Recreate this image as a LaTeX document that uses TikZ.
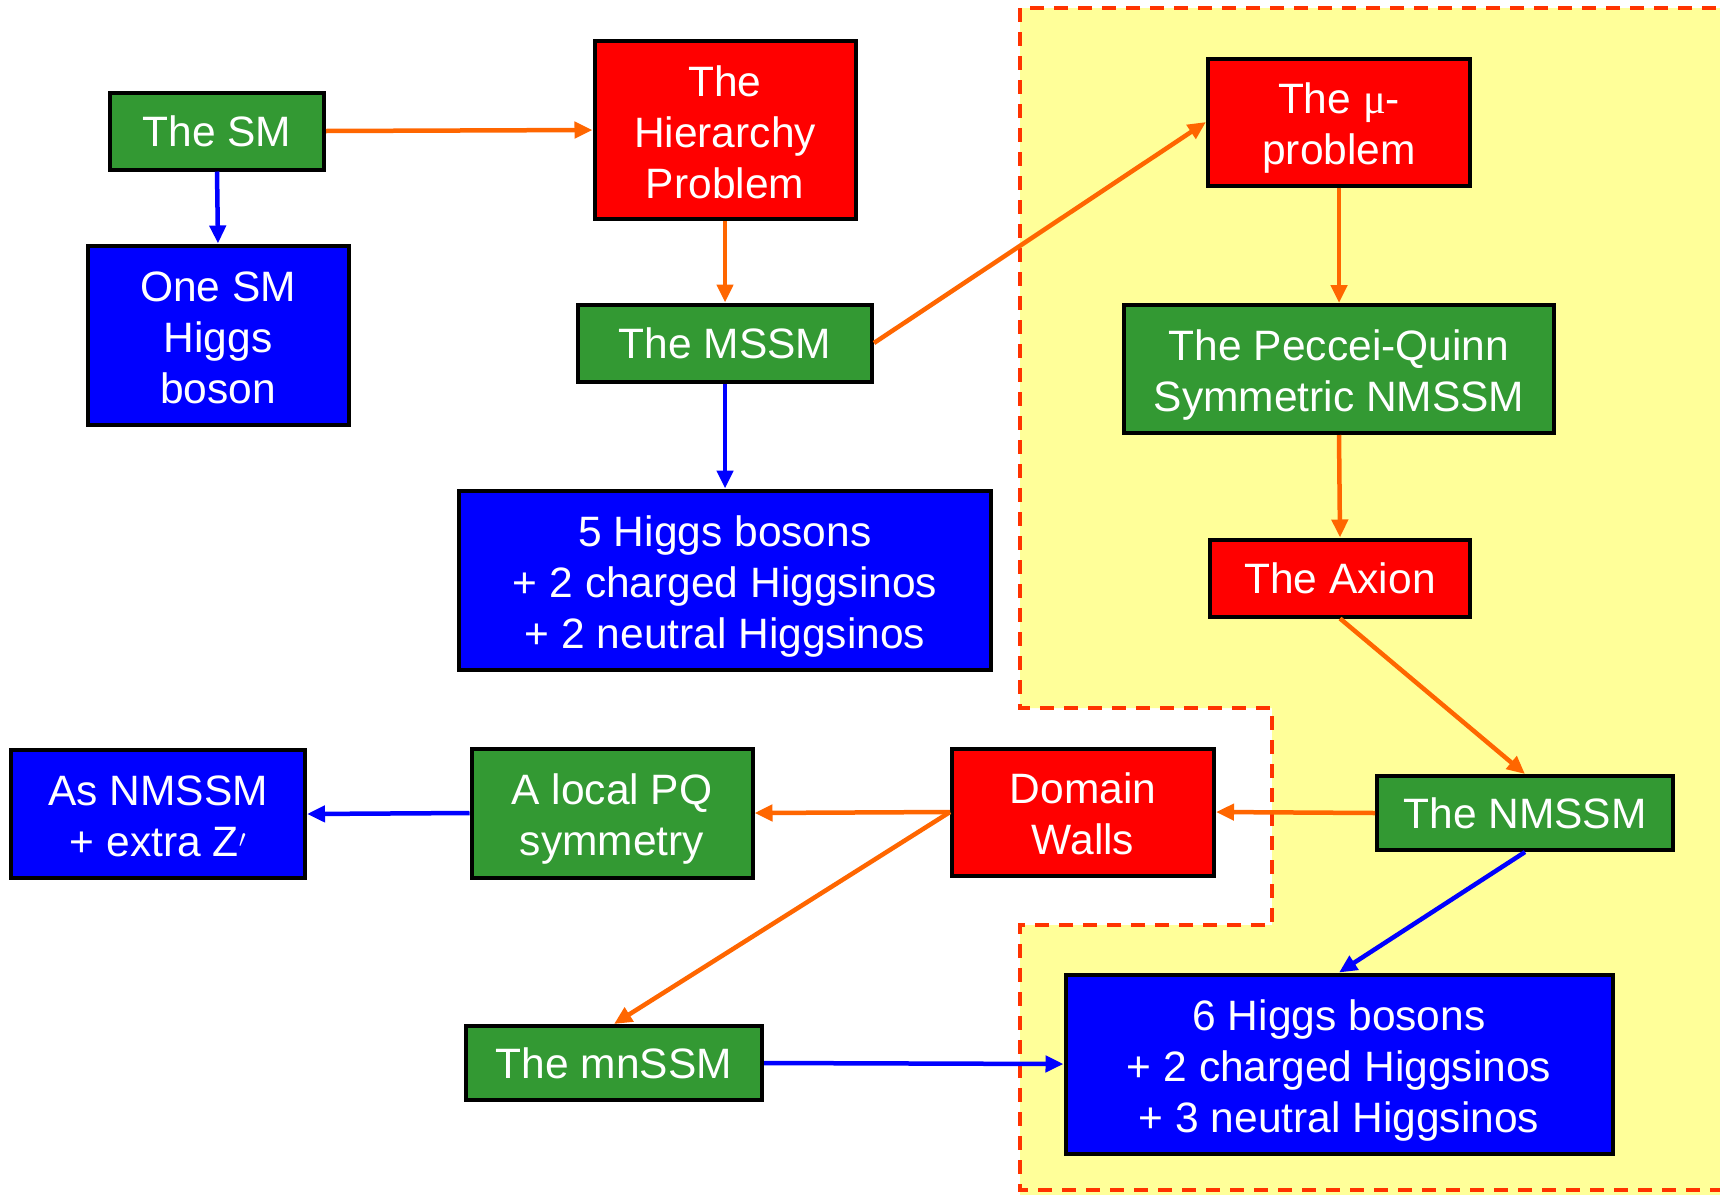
\documentclass[tikz,border=0pt]{standalone}
\usepackage{fontspec}
\setmainfont{Liberation Sans}
\newfontfamily\serifmu{Liberation Serif}
\usetikzlibrary{arrows.meta}
\definecolor{boxgreen}{HTML}{339933}
\definecolor{boxred}{HTML}{FF0000}
\definecolor{boxblue}{HTML}{0000FF}
\definecolor{arrorange}{HTML}{FF6600}
\definecolor{regionyellow}{HTML}{FFFF99}
\definecolor{regionborder}{HTML}{FF3300}
\newcommand{\mytopstrut}{\rule{0pt}{44pt}}
\newcommand{\mybotstrut}{\rule[-10pt]{0pt}{10pt}}
\begin{document}
\begin{tikzpicture}[x=1pt,y=-1pt,
  box/.style={draw=black, line width=4pt, text=white, align=center, inner sep=0pt,
    font=\fontsize{42.5}{51}\selectfont},
  gbox/.style={box, fill=boxgreen},
  rbox/.style={box, fill=boxred},
  bbox/.style={box, fill=boxblue},
  oarr/.style={draw=arrorange, line width=4.5pt, -{Triangle[length=18pt,width=16pt]}},
  barr/.style={draw=boxblue, line width=4.5pt, -{Triangle[length=18pt,width=16pt]}},
  region/.style={draw=regionborder, line width=4pt, dash pattern=on 14pt off 10pt}
]
\useasboundingbox (0,0) rectangle (1720,1194);
\fill[white] (0,0) rectangle (1720,1194);
% yellow region
\fill[regionyellow] (1020,8) -- (1740,8) -- (1740,1210) -- (1020,1210) -- (1020,925) -- (1272,925) -- (1272,708) -- (1020,708) -- cycle;
\draw[region] (1740,8) -- (1020,8) -- (1020,708) -- (1272,708) -- (1272,925) -- (1020,925) -- (1020,1190) -- (1740,1190);

% nodes
\node[gbox, minimum width=214pt, minimum height=77pt] (sm) at (217,131) {The SM};
\node[rbox, minimum width=261pt, minimum height=178pt] (hier) at (725,130) {\mytopstrut The\\Hierarchy\\Problem\mybotstrut};
\node[bbox, minimum width=261pt, minimum height=179pt] (onesm) at (218,335) {\mytopstrut One SM\\Higgs\\boson\mybotstrut};
\node[gbox, minimum width=294pt, minimum height=77pt] (mssm) at (725,343) {The MSSM};
\node[bbox, minimum width=532pt, minimum height=179pt] (five) at (725,580) {\mytopstrut 5 Higgs bosons\\+ 2 charged Higgsinos\\+ 2 neutral Higgsinos\mybotstrut};
\node[rbox, minimum width=262pt, minimum height=127pt] (mu) at (1339,122) {\mytopstrut The {\serifmu μ}-\\problem\mybotstrut};
\node[gbox, minimum width=430pt, minimum height=128pt] (pq) at (1339,369) {\mytopstrut The Peccei-Quinn\\Symmetric NMSSM\mybotstrut};
\node[rbox, minimum width=260pt, minimum height=77pt] (axion) at (1340,578) {The Axion};
\node[gbox, minimum width=296pt, minimum height=74pt] (nmssm) at (1525,813) {The NMSSM};
\node[rbox, minimum width=262pt, minimum height=127pt] (dw) at (1083,812) {\mytopstrut Domain\\Walls\mybotstrut};
\node[gbox, minimum width=281pt, minimum height=129pt] (lpq) at (612,813) {\mytopstrut A local PQ\\symmetry\mybotstrut};
\node[bbox, minimum width=294pt, minimum height=128pt] (asn) at (158,814) {\mytopstrut As NMSSM\\+ extra Z$^{\prime}$\mybotstrut};
\node[gbox, minimum width=296pt, minimum height=74pt] (mn) at (614,1063) {The mnSSM};
\node[bbox, minimum width=547pt, minimum height=179pt] (six) at (1339,1064) {\mytopstrut 6 Higgs bosons\\+ 2 charged Higgsinos\\+ 3 neutral Higgsinos\mybotstrut};

% connectors
\draw[oarr] (sm.east) -- (hier.west);
\draw[barr] (sm.south) -- (onesm.north);
\draw[oarr] (hier.south) -- (mssm.north);
\draw[barr] (mssm.south) -- (five.north);
\draw[oarr] (mssm.east) -- (mu.west);
\draw[oarr] (mu.south) -- (pq.north);
\draw[oarr] (pq.south) -- (axion.north);
\draw[oarr] (axion.south) -- (nmssm.north);
\draw[oarr] (nmssm.west) -- (dw.east);
\draw[barr] (nmssm.south) -- (six.north);
\draw[oarr] (dw.west) -- (lpq.east);
\draw[barr] (lpq.west) -- (asn.east);
\draw[oarr] (dw.west) -- (mn.north);
\draw[barr] (mn.east) -- (six.west);
\end{tikzpicture}
\end{document}
